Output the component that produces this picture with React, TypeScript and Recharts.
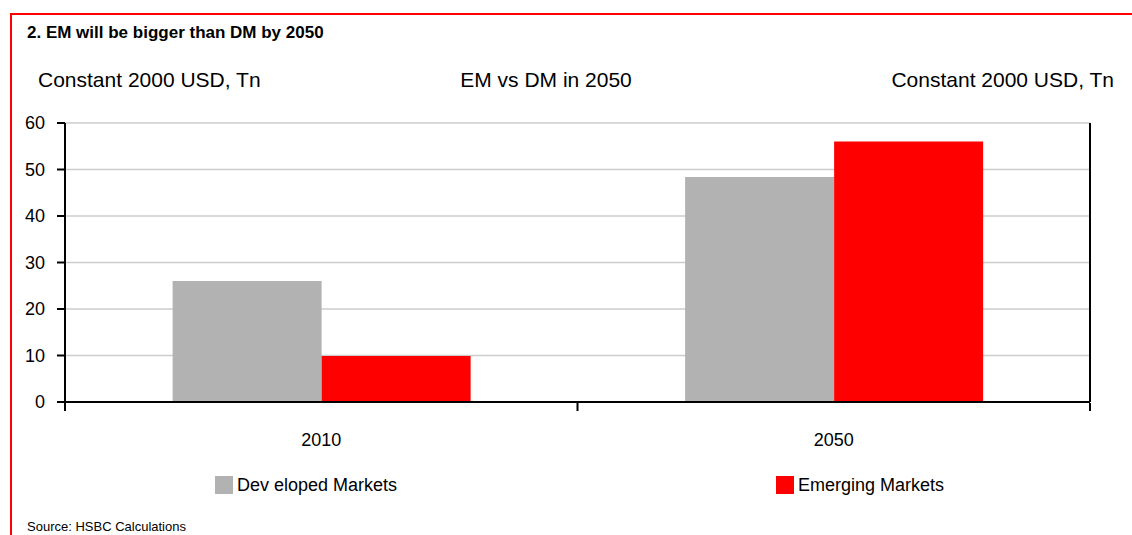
import { Bar, BarChart, CartesianGrid, Legend, XAxis, YAxis } from "recharts";

const years = ["2010", "2050"];
const developed = [26, 48.4];
const emerging = [9.9, 56];
const yTicks = [0, 10, 20, 30, 40, 50, 60];
const edgeTicks = [0, 1, 2];
const seriesNames = ["Dev eloped Markets", "Emerging Markets"];
const seriesColors = ["#b2b2b2", "#ff0000"];
const legendLeft = [215, 776];

const data = years.map((year, i) => ({
  year,
  dm: developed[i],
  em: emerging[i],
  edge: i,
}));

const font = "Arial, 'Liberation Sans', Helvetica, sans-serif";
const axisStroke = { stroke: "#000", strokeWidth: 2 };
const tickText = { fill: "#000", fontSize: 18, fontFamily: font };

// boundary ticks only, no labels
const NoLabel = () => <g />;

function LegendRow() {
  return (
    <div style={{ position: "relative", width: 1132, height: 20 }}>
      {seriesNames.map((name, i) => (
        <div
          key={name}
          style={{
            position: "absolute",
            left: legendLeft[i],
            top: 0,
            display: "flex",
            alignItems: "center",
            height: 18,
            fontFamily: font,
            fontSize: 18,
            color: "#000",
            whiteSpace: "nowrap",
          }}
        >
          <span
            style={{
              display: "inline-block",
              width: 18,
              height: 18,
              background: seriesColors[i],
              marginRight: 4,
            }}
          />
          <span>{name}</span>
        </div>
      ))}
    </div>
  );
}

export default function App() {
  return (
    <div
      style={{
        position: "absolute",
        left: 0,
        top: 0,
        width: 1132,
        height: 535,
        overflow: "hidden",
        background: "#fff",
        fontFamily: font,
        color: "#000",
      }}
    >
      {/* red frame */}
      <div
        style={{
          position: "absolute",
          left: 10,
          top: 13,
          width: 1130,
          height: 600,
          borderTop: "2px solid #ff0000",
          borderLeft: "2px solid #ff0000",
        }}
      />
      <div
        style={{
          position: "absolute",
          left: 27,
          top: 24,
          fontSize: 17,
          lineHeight: "17px",
          fontWeight: "bold",
          whiteSpace: "nowrap",
        }}
      >
        2. EM will be bigger than DM by 2050
      </div>
      <div style={{ position: "absolute", left: 38, top: 69, fontSize: 21, lineHeight: "21px", whiteSpace: "nowrap" }}>
        Constant 2000 USD, Tn
      </div>
      <div
        style={{
          position: "absolute",
          left: 546,
          top: 69,
          fontSize: 21,
          lineHeight: "21px",
          transform: "translateX(-50%)",
          whiteSpace: "nowrap",
        }}
      >
        EM vs DM in 2050
      </div>
      <div style={{ position: "absolute", right: 18, top: 69, fontSize: 21, lineHeight: "21px", whiteSpace: "nowrap" }}>
        Constant 2000 USD, Tn
      </div>

      <div style={{ position: "absolute", left: 0, top: 0 }}>
        <BarChart
          width={1132}
          height={535}
          data={data}
          margin={{ top: 123, right: 0, bottom: 64, left: 0 }}
          barCategoryGap="21%"
          barGap={0}
        >
          <CartesianGrid
            vertical={false}
            stroke="#cccccc"
            strokeWidth={1.5}
            yAxisId="left"
            xAxisId="cat"
          />
          <XAxis
            xAxisId="cat"
            dataKey="year"
            axisLine={axisStroke}
            tickLine={false}
            tick={tickText}
            tickMargin={25}
            height={1}
          />
          <XAxis
            xAxisId="edges"
            dataKey="edge"
            type="number"
            domain={[0, 2]}
            ticks={edgeTicks}
            allowDataOverflow
            tick={NoLabel}
            axisLine={false}
            tickLine={axisStroke}
            tickSize={8}
            height={48}
          />
          <YAxis
            yAxisId="left"
            domain={[0, 60]}
            ticks={yTicks}
            width={65}
            axisLine={axisStroke}
            tickLine={axisStroke}
            tickSize={8}
            tickMargin={12}
            tick={tickText}
          />
          <YAxis
            yAxisId="right"
            orientation="right"
            domain={[0, 60]}
            ticks={yTicks}
            width={42}
            axisLine={axisStroke}
            tickLine={axisStroke}
            tickSize={8}
            tickMargin={5}
            tick={tickText}
          />
          <Bar
            dataKey="dm"
            name={seriesNames[0]}
            fill={seriesColors[0]}
            xAxisId="cat"
            yAxisId="left"
            isAnimationActive={false}
          />
          <Bar
            dataKey="em"
            name={seriesNames[1]}
            fill={seriesColors[1]}
            xAxisId="cat"
            yAxisId="left"
            isAnimationActive={false}
          />
          <Legend
            content={<LegendRow />}
            wrapperStyle={{ left: 0, top: 476, bottom: "auto", width: 1132, height: 20 }}
          />
        </BarChart>
      </div>

      <div
        style={{
          position: "absolute",
          left: 27,
          top: 520,
          fontSize: 13,
          lineHeight: "14px",
          whiteSpace: "nowrap",
        }}
      >
        Source: HSBC Calculations
      </div>
    </div>
  );
}
